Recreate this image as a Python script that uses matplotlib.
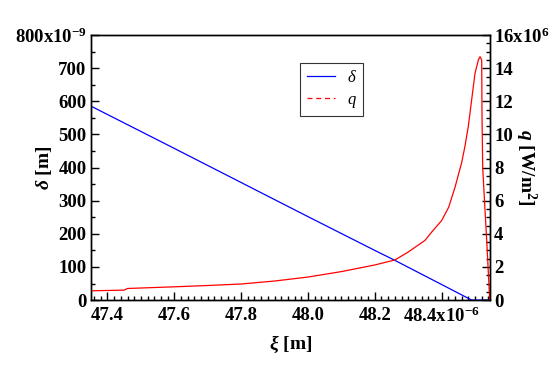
import numpy as np
import matplotlib.pyplot as plt
from matplotlib.ticker import MultipleLocator

plt.rcParams['font.family'] = ['Liberation Serif', 'DejaVu Serif']
plt.rcParams['mathtext.fontset'] = 'custom'
plt.rcParams['mathtext.rm'] = 'Liberation Serif'
plt.rcParams['mathtext.it'] = 'Liberation Serif:italic'
plt.rcParams['mathtext.bf'] = 'Liberation Serif:bold'
# bold italic for the axis symbols
plt.rcParams['mathtext.sf'] = 'Liberation Serif:bold:italic'

# xi in units of 1e-6 m
xi_delta = [47.35, 47.6, 47.8, 48.0, 48.2, 48.26, 48.4, 48.49, 48.544]
delta = [586, 458, 355, 252, 150, 120, 47, 0, 0]  # x1e-9 m

xi_q = [47.35, 47.45, 47.46, 47.6, 47.7, 47.8, 47.9, 48.0, 48.1, 48.15,
        48.2, 48.26, 48.3, 48.35, 48.37, 48.40, 48.421, 48.44, 48.46, 48.47,
        48.48, 48.49, 48.50, 48.51, 48.515, 48.52, 48.521, 48.523, 48.530,
        48.535, 48.540, 48.544]
q = [0.56, 0.6, 0.7, 0.8, 0.88, 0.97, 1.15, 1.39, 1.72, 1.92,
     2.12, 2.42, 2.9, 3.6, 4.1, 4.8, 5.6, 6.8, 8.3, 9.3,
     10.5, 12.1, 13.7, 14.5, 14.7, 14.5, 11.0, 8.0, 5.4,
     3.6, 1.6, 0]  # x1e6 W/m2

x_ticks = [47.4, 47.6, 47.8, 48.0, 48.2, 48.4]
x_labels = ['47.4', '47.6', '47.8', '48.0', '48.2', r'48.4x10$^{\mathbf{-6}}$']
yl_ticks = [0, 100, 200, 300, 400, 500, 600, 700, 800]
yl_labels = ['0', '100', '200', '300', '400', '500', '600', '700', r'800x10$^{\mathbf{-9}}$']
yr_ticks = [0, 2, 4, 6, 8, 10, 12, 14, 16]
yr_labels = ['0', '2', '4', '6', '8', '10', '12', '14', r'16x10$^{\mathbf{6}}$']

fig = plt.figure(figsize=(5.5, 3.7), dpi=100)
ax = fig.add_axes([0.165, 0.189, 0.726, 0.716])
ax2 = ax.twinx()

l1, = ax.plot(xi_delta, delta, color='#0000ff', lw=0.9, label=r'$\delta$')
l2, = ax2.plot(xi_q, q, color='#ff0000', lw=0.9, label=r'$q$')

ax.set_xlim(47.35, 48.545)
ax.set_ylim(0, 800)
ax2.set_ylim(0, 16)

fs = 13.5
ax.set_xticks(x_ticks, x_labels)
ax.set_yticks(yl_ticks, yl_labels)
ax2.set_yticks(yr_ticks, yr_labels)
ax.xaxis.set_minor_locator(MultipleLocator(0.02))
ax.yaxis.set_minor_locator(MultipleLocator(50))
ax2.yaxis.set_minor_locator(MultipleLocator(0.5))

for a in (ax, ax2):
    a.tick_params(which='both', direction='in', labelsize=fs, width=1)
    a.tick_params(which='major', length=6)
    a.tick_params(which='minor', length=3)
    for lab in a.get_xticklabels() + a.get_yticklabels():
        lab.set_fontweight('bold')
    for s in a.spines.values():
        s.set_linewidth(1.0)
ax.tick_params(axis='x', pad=5)
ax.tick_params(axis='y', pad=3)
ax2.tick_params(axis='y', pad=3)

ax.set_xlabel(r'$\mathsf{\xi}$ [m]', fontsize=fs + 0.5, fontweight='bold', labelpad=5)
ax.text(-0.118, 0.5, r'$\mathsf{\delta}$ [m]', transform=ax.transAxes, rotation=90,
        ha='center', va='center', fontsize=fs + 0.5, fontweight='bold')
ax2.text(1.09, 0.5, r'$\mathsf{q}$ [W/m$^{\mathbf{2}}$]', transform=ax2.transAxes,
         rotation=-90, ha='center', va='center', fontsize=fs + 0.5, fontweight='bold')

leg = ax.legend(handles=[l1, l2], loc='upper left', bbox_to_anchor=(0.524, 0.894),
                borderaxespad=0, fontsize=12, frameon=True, fancybox=False,
                handlelength=1.7, handletextpad=0.7, borderpad=0.4, labelspacing=0.35)
leg.get_frame().set_edgecolor('black')
leg.get_frame().set_linewidth(0.8)
leg.legend_handles[1].set_linestyle((0, (4, 3)))

fig.savefig('out.png', dpi=100)
